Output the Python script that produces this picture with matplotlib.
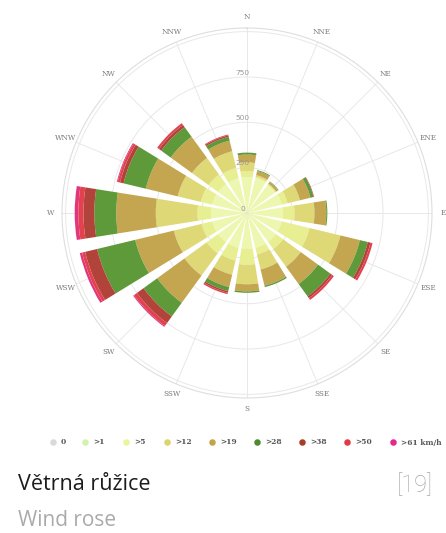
import numpy as np
import matplotlib
matplotlib.use('Agg')
import matplotlib.pyplot as plt

# wind directions (clockwise from north)
directions = ['N', 'NNE', 'NE', 'ENE', 'E', 'ESE', 'SE', 'SSE',
              'S', 'SSW', 'SW', 'WSW', 'W', 'WNW', 'NW', 'NNW']

# speed classes, stacked from the centre outwards
speed_labels = ['0', '>1', '>5', '>12', '>19', '>28', '>38', '>50', '>61 km/h']
calm = [4, 4, 4, 4, 4, 4, 4, 4, 4, 4, 4, 4, 4, 4, 4, 4]
s1 = [193, 193, 186, 193, 193, 193, 193, 193, 193, 193, 193, 193, 193, 193, 193, 193]
s5 = [33, 8, 5, 33, 65, 158, 49, 38, 88, 73, 78, 60, 76, 65, 65, 58]
s12 = [49, 10, 5, 70, 110, 175, 120, 85, 108, 80, 151, 158, 230, 131, 113, 95]
s19 = [43, 23, 12, 60, 65, 110, 118, 92, 39, 70, 186, 219, 218, 181, 145, 60]
s28 = [11, 5, 3, 17, 6, 45, 84, 8, 8, 23, 93, 216, 121, 126, 65, 22]
s38 = [0, 0, 0, 3, 0, 15, 12, 0, 0, 9, 45, 68, 60, 20, 15, 8]
s50 = [0, 0, 0, 0, 0, 12, 12, 0, 0, 8, 20, 17, 28, 13, 12, 5]
s61 = [0, 0, 0, 0, 0, 0, 0, 0, 0, 0, 6, 13, 20, 5, 0, 0]
series = [calm, s1, s5, s12, s19, s28, s38, s50, s61]

radial_ticks = [250, 500, 750, 1000]
radial_labels = ['0', '250', '500', '750']

bar_colors = ['#d9d9d9', '#edf7b0', '#e8ef93', '#dfd877', '#c5a650',
              '#5f9a3a', '#b2433a', '#e1424e', '#e2357c']
legend_colors = ['#d9d9d9', '#d2f3ad', '#ecf49c', '#dbd468', '#c4a24a',
                 '#4f8a30', '#a83c28', '#e23a44', '#e6288a']

W, H = 446, 533
fig = plt.figure(figsize=(W / 100, H / 100), dpi=100)

# polar area: centre (247, 213) px, outer ring radius 185 px
cx, cy, rad = 247, 213, 185
rmax = 1020
ax = fig.add_axes([(cx - rad) / W, (H - cy - rad) / H, 2 * rad / W, 2 * rad / H],
                  projection='polar')
ax.set_theta_zero_location('N')
ax.set_theta_direction(-1)
ax.set_ylim(0, rmax)

theta = np.deg2rad(np.arange(len(directions)) * 22.5)
width = np.deg2rad(18)
bottom = np.zeros(len(directions))
for vals, col in zip(series, bar_colors):
    vals = np.array(vals, dtype=float)
    ax.bar(theta, vals, width=width, bottom=bottom, color=col,
           linewidth=0, zorder=3)
    bottom += vals

# grid styling
ax.set_xticks(theta)
ax.set_xticklabels([])
ax.set_yticks(radial_ticks)
ax.set_yticklabels([])
ax.grid(True, color='#e8e8e8', linewidth=0.7, zorder=0)
ax.spines['polar'].set_color('#dedede')
ax.spines['polar'].set_linewidth(0.8)
ax.tick_params(length=0)

for t, d in zip(theta, directions):
    ax.text(t, 1080, d, ha='center', va='center', fontsize=5.2,
            color='#7a7a7a', family='DejaVu Serif')

for r, lab in zip([0] + radial_ticks[:3], radial_labels):
    ax.annotate(lab, xy=(0, r), xytext=(-3, 3), textcoords='offset points',
                ha='center', va='center', fontsize=5.3, color='#999999',
                zorder=5)

# legend row + captions drawn in pixel space
lax = fig.add_axes([0, 0, 1, 1])
lax.set_xlim(0, W)
lax.set_ylim(H, 0)
lax.axis('off')

marker_x = [53, 85, 126, 167, 212, 257, 302, 347, 393]
for x, lab, col in zip(marker_x, speed_labels, legend_colors):
    lax.scatter([x], [442], s=22, color=col, linewidths=0)
    lax.text(x + 8, 442.5, lab, ha='left', va='center', fontsize=5.4,
             color='#555555', family='DejaVu Serif', fontweight='bold')

lax.text(18, 484, 'Větrná růžice', ha='left', va='center', fontsize=15.5,
         color='#1c1c1c', family='Open Sans')
lax.text(433, 485, '[19]', ha='right', va='center', fontsize=17,
         color='#a8a8a8', family='Roboto', fontweight='light')
lax.text(18, 521, 'Wind rose', ha='left', va='center', fontsize=15,
         color='#aaaaaa', family='Open Sans')

fig.savefig('out.png', dpi=100)
